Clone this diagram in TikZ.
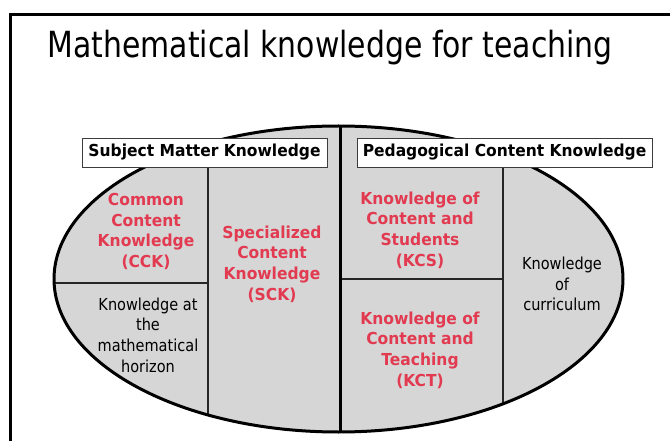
\documentclass[tikz,border=0pt]{standalone}
\usepackage{fontspec}
\setmainfont{DejaVu Sans}[FakeStretch=0.88, BoldFeatures={FakeStretch=0.94}]
\newfontfamily\titlefont{DejaVu Sans}[FakeStretch=0.83]
\definecolor{kred}{RGB}{226,58,80}
\definecolor{kgray}{RGB}{214,214,214}
\definecolor{kbox}{RGB}{60,60,60}
\begin{document}
\begin{tikzpicture}[x=1pt, y=-1pt,
  redtxt/.style={align=center, text=kred, font=\bfseries\fontsize{16.5}{20.7}\selectfont},
  blacktxt/.style={align=center, text=black, font=\fontsize{16.5}{20.7}\selectfont},
  labelbox/.style={draw=kbox, line width=0.8pt, fill=white, inner sep=0pt, minimum height=29pt, font=\bfseries\fontsize{16.5}{20}\selectfont},
  divline/.style={line width=2pt, draw=black!85}]
\useasboundingbox (0,0) rectangle (670,441);
% Marco
\draw [line width=3pt] (10.5,441) -- (10.5,15) -- (670,15);
\node [anchor=base west, font=\titlefont\fontsize{36}{40}\selectfont] (title) at (44,58) {Mathematical knowledge for teaching};
% Elipse
\coordinate (c) at (338.5,279);
\fill [kgray] (c) ellipse [x radius=284.5, y radius=153];
% Divisiones
\begin{scope}
\clip (c) ellipse [x radius=284.5, y radius=153];
\coordinate (smk) at (208,167);
\coordinate (pck) at (503,167);
\coordinate (mid) at (340,100);
\draw [divline] (smk) -- (208,441);
\draw [divline] (pck) -- (503,441);
\draw [divline] (0,283) -- (208,283);
\draw [divline] (340,279) -- (503,279);
\draw [line width=3pt] (mid) -- (340,441);
\end{scope}
\draw [line width=3pt] (c) ellipse [x radius=284.5, y radius=153];
% Cajas
\node [labelbox, minimum width=245pt] (SMK) at (204.5,152.5) {Subject Matter Knowledge};
\node [labelbox, minimum width=295pt] (PCK) at (504.5,152.5) {Pedagogical Content Knowledge};
% Textos
\node [redtxt] (CCK) at (146,231.5) {Common\\Content\\Knowledge\\(CCK)};
\node [blacktxt] (HOR) at (148,335) {Knowledge at\\the\\mathematical\\horizon};
\node [redtxt] (SCK) at (272,264) {Specialized\\Content\\Knowledge\\(SCK)};
\node [redtxt] (KCS) at (420,230) {Knowledge of\\Content and\\Students\\(KCS)};
\node [redtxt] (KCT) at (420,350) {Knowledge of\\Content and\\Teaching\\(KCT)};
\node [blacktxt] (CUR) at (562,284) {Knowledge\\of\\curriculum};
\end{tikzpicture}
\end{document}
